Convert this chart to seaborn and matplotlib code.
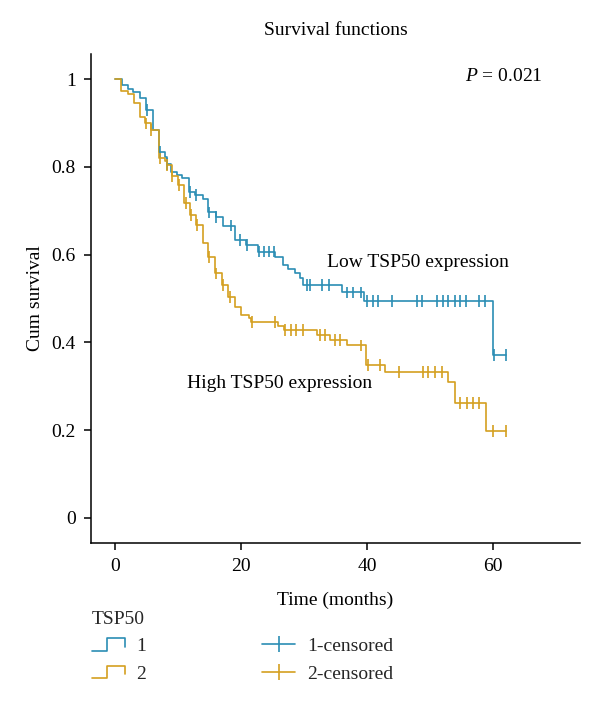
import numpy as np
import pandas as pd
import matplotlib
matplotlib.use("Agg")
import matplotlib.pyplot as plt
import seaborn as sns
from matplotlib.legend_handler import HandlerBase
from matplotlib.lines import Line2D

# ---- data ----
g1_times = [0, 1.1, 2.0, 2.9, 4.0, 5.0, 6.0, 7.0, 7.9, 8.2, 8.9, 9.8, 10.7, 11.8, 12.7,
            13.9, 14.8, 16.0, 17.2, 19.0, 20.8, 22.7, 25.4, 26.7, 27.5, 28.5, 29.3, 29.8,
            36.0, 39.6, 60.0]
g1_surv = [1.0, 0.986, 0.978, 0.971, 0.957, 0.929, 0.884, 0.834, 0.823, 0.806, 0.789, 0.781,
           0.774, 0.743, 0.736, 0.726, 0.696, 0.686, 0.666, 0.633, 0.622, 0.607, 0.595, 0.576,
           0.567, 0.558, 0.547, 0.531, 0.514, 0.494, 0.371]
g1_cens = [5.1, 7.1, 8.3, 11.9, 12.9, 14.9, 16.1, 18.4, 19.9, 21.0, 22.9, 23.7, 24.5, 25.2,
           30.4, 31.0, 32.8, 33.9, 36.8, 37.8, 39.0, 40.0, 40.9, 41.8, 43.9, 47.9, 48.7,
           51.1, 52.0, 52.9, 53.9, 54.8, 55.7, 57.8, 58.7, 60.1, 62.0]

g2_times = [0, 0.9, 2.0, 3.0, 4.0, 4.8, 5.7, 7.0, 7.9, 8.2, 9.0, 10.0, 11.0, 11.9, 12.9,
            14.0, 14.8, 15.9, 17.0, 18.0, 19.0, 20.0, 21.2, 21.6, 25.9, 26.9, 32.0, 34.2,
            36.8, 39.9, 42.9, 52.9, 54.0, 58.9]
g2_surv = [1.0, 0.973, 0.967, 0.945, 0.914, 0.899, 0.884, 0.819, 0.814, 0.804, 0.778, 0.759,
           0.717, 0.690, 0.667, 0.626, 0.594, 0.557, 0.531, 0.504, 0.481, 0.462, 0.456, 0.447,
           0.438, 0.428, 0.417, 0.405, 0.393, 0.349, 0.332, 0.309, 0.262, 0.198]
g2_cens = [4.9, 5.8, 7.1, 8.3, 9.1, 10.1, 11.3, 12.1, 13.0, 15.0, 16.0, 17.1, 18.2, 21.8,
           25.4, 27.0, 28.0, 28.8, 29.9, 32.5, 33.4, 35.0, 35.7, 39.0, 40.2, 42.0, 45.0,
           48.9, 49.7, 50.8, 51.9, 54.8, 55.8, 56.8, 57.8, 60.0, 62.0]

end_time = 62.0
groups = ["1", "2"]
x_ticks = [0, 20, 40, 60]
y_ticks = [0, 0.2, 0.4, 0.6, 0.8, 1.0]
y_tick_labels = ["0", "0.2", "0.4", "0.6", "0.8", "1"]

colors = {"1": "#2b8db4", "2": "#d4a020"}

# ---- build tables ----
rows, crow = [], []
for g, t, s, c in [("1", g1_times, g1_surv, g1_cens), ("2", g2_times, g2_surv, g2_cens)]:
    t = np.asarray(t); s = np.asarray(s)
    for ti, si in zip(t, s):
        rows.append((g, ti, si))
    rows.append((g, end_time, s[-1]))
    for ci in c:
        idx = np.searchsorted(t, ci, side="right") - 1
        crow.append((g, ci, s[idx]))
curve = pd.DataFrame(rows, columns=["group", "time", "surv"])
cens = pd.DataFrame(crow, columns=["group", "time", "surv"])

sns.set_theme(style="white")
plt.rcParams["font.family"] = ["Liberation Serif", "DejaVu Serif"]
plt.rcParams["mathtext.fontset"] = "custom"
plt.rcParams["mathtext.it"] = "Liberation Serif:italic"
plt.rcParams["mathtext.rm"] = "Liberation Serif"

FS = 14

fig = plt.figure(figsize=(6, 7.04), dpi=100)
ax = fig.add_axes([91/600, 1-543/704, (580-91)/600, (543-54)/704])

sns.lineplot(data=curve, x="time", y="surv", hue="group", palette=colors,
             drawstyle="steps-post", estimator=None, sort=False, linewidth=1.2,
             legend=False, ax=ax)
sns.scatterplot(data=cens, x="time", y="surv", hue="group", palette=colors,
                marker="|", s=70, linewidth=1.2, legend=False, ax=ax, zorder=3)

ax.set_xlim(-3.8, 73.8)
ax.set_ylim(-0.057, 1.057)
ax.set_xticks(x_ticks)
ax.set_yticks(y_ticks)
ax.set_yticklabels(y_tick_labels)
for side in ["top", "right"]:
    ax.spines[side].set_visible(False)
for side in ["left", "bottom"]:
    ax.spines[side].set_color("black")
    ax.spines[side].set_linewidth(1.1)
ax.tick_params(axis="both", direction="out", length=5, width=1.1, colors="black",
               labelsize=FS, pad=6, left=True, bottom=True)
ax.set_xlabel("Time (months)", fontsize=FS, labelpad=12, color="black")
ax.set_ylabel("Cum survival", fontsize=FS, labelpad=5, color="black")
ax.set_title("Survival functions", fontsize=FS, pad=14, color="black")

ax.text(67.9, 1.005, "$P$ = 0.021", ha="right", va="center", fontsize=FS, color="black")
ax.text(33.7, 0.583, "Low TSP50 expression", ha="left", va="center", fontsize=FS,
        color="black")
ax.text(11.4, 0.307, "High TSP50 expression", ha="left", va="center", fontsize=FS,
        color="black")


class StepHandler(HandlerBase):
    def create_artists(self, legend, orig_handle, xdescent, ydescent, width, height,
                       fontsize, trans):
        x0 = -xdescent
        y0 = -ydescent + height * 0.05
        y1 = -ydescent + height * 0.95
        xs = [x0, x0 + width * 0.47, x0 + width * 0.47, x0 + width, x0 + width]
        ys = [y0, y0, y1, y1, y0 + height * 0.25]
        ln = Line2D(xs, ys, color=orig_handle.get_color(), lw=1.2, transform=trans)
        return [ln]


h1 = Line2D([], [], color=colors["1"])
h2 = Line2D([], [], color=colors["2"])
c1 = Line2D([], [], color=colors["1"], marker="|", markersize=12, mew=1.2, lw=1.2)
c2 = Line2D([], [], color=colors["2"], marker="|", markersize=12, mew=1.2, lw=1.2)

leg = fig.legend([h1, h2, c1, c2], ["1", "2", "1-censored", "2-censored"], ncol=2,
                 loc="upper left", bbox_to_anchor=(88/600, 1-607/704), frameon=False,
                 title="TSP50", fontsize=FS, title_fontsize=FS,
                 handler_map={h1: StepHandler(), h2: StepHandler()},
                 handlelength=1.7, handletextpad=0.6, columnspacing=5.95,
                 labelspacing=0.5, borderpad=0.2, borderaxespad=0.0)
leg._legend_box.align = "left"

fig.savefig("out.png", dpi=100, facecolor="white")
